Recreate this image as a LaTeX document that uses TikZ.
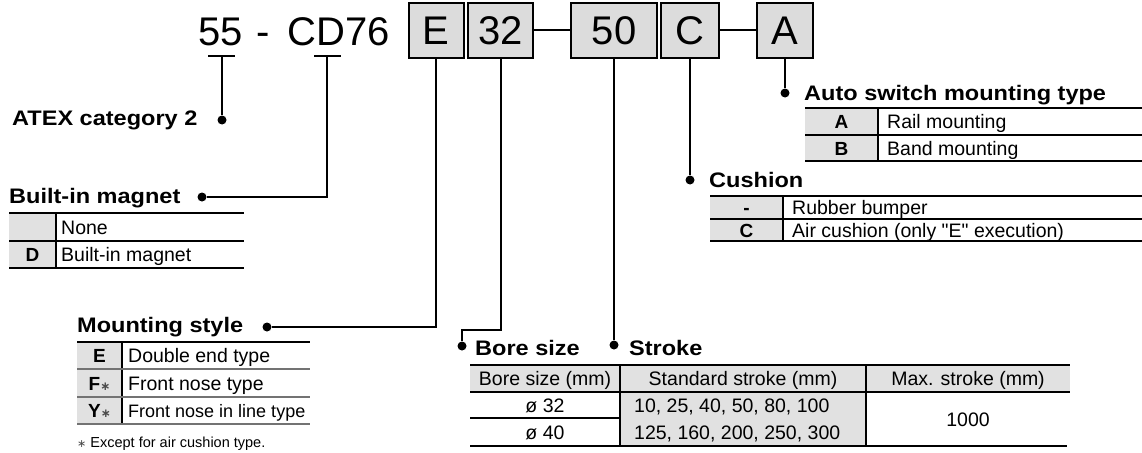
\documentclass[tikz,border=0pt]{standalone}
\usepackage{fontspec}
\setmainfont{Liberation Sans}
\newfontfamily\lblfont{Liberation Sans}[FakeStretch=1.12]
\newfontfamily\symfont{DejaVu Sans}
\definecolor{cellgrey}{HTML}{E1E1E1}
\definecolor{boxgrey}{HTML}{DCDCDC}
\tikzset{
  codebox/.style={draw, line width=2pt, fill=boxgrey, minimum height=55pt, inner sep=0pt,
                  font=\fontsize{40}{40}\selectfont},
  codetext/.style={inner sep=0pt, font=\fontsize{40}{40}\selectfont},
  lead/.style={line width=2pt},
  dotmark/.style={circle, fill=black, inner sep=0pt, minimum size=9pt},
  heading/.style={inner sep=0pt, anchor=base west, font=\lblfont\bfseries\fontsize{21}{21}\selectfont},
  keytxt/.style={inner sep=0pt, anchor=base, font=\bfseries\fontsize{19}{19}\selectfont},
  celltxt/.style={inner sep=0pt, anchor=base west, font=\fontsize{19.5}{19.5}\selectfont},
  midtxt/.style={inner sep=0pt, anchor=base, font=\fontsize{19.5}{19.5}\selectfont},
  notetxt/.style={inner sep=0pt, anchor=base west, font=\fontsize{14.5}{14.5}\selectfont},
  topline/.style={line width=2.6pt},
  rowline/.style={line width=1.2pt},
  softline/.style={line width=1.5pt, draw=black!55},
}
\newcommand{\starmark}{{\symfont\fontsize{12}{12}\selectfont\color{black!70}∗}}
% straight double quote, taken as a glyph so the TeX ligature mapping leaves it alone
\newcommand{\dq}{\XeTeXglyph\XeTeXglyphindex "quotedbl" \relax}
\begin{document}
\begin{tikzpicture}[x=1pt,y=-1pt]
\useasboundingbox (0,0) rectangle (1142,452);

% ---- order code ----
\node[codetext, anchor=base west] (n55) at (198,46) {55};
\node[codetext, anchor=base] (dash) at (263,46) {-};
\node[codetext, anchor=base east] (cd76) at (390,46) {CD76};
\node[codebox, minimum width=55pt] (bE) at (436,30.5) {E};
\node[codebox, minimum width=65pt] (b32) at (500.5,30.5) {32};
\node[codebox, minimum width=86pt] (b50) at (614,30.5) {50};
\node[codebox, minimum width=58pt] (bC) at (690,30.5) {C};
\node[codebox, minimum width=56pt] (bA) at (785,30.5) {A};
\draw[lead] (b32.east) -- (b50.west);
\draw[lead] (bC.east) -- (bA.west);

% tick marks under the fixed part of the code
\coordinate (t55) at (222,56);
\coordinate (t55l) at (208,56);
\coordinate (t55r) at (235,56);
\coordinate (tD) at (327,56);
\coordinate (tDl) at (314,56);
\coordinate (tDr) at (341,56);
\draw[lead] (t55l) -- (t55r);
\draw[lead] (tDl) -- (tDr);

% ---- leaders and headings ----
\node[dotmark] (dAtex) at (222,120) {};
\draw[lead] (t55) -- (dAtex);
\node[heading] (hAtex) at (12,125) {ATEX category 2};

\node[dotmark] (dMag) at (202,197) {};
\draw[lead] (tD) |- (dMag);
\node[heading] (hMag) at (9,203) {Built-in magnet};

\node[dotmark] (dMount) at (267,327) {};
\draw[lead] (bE.south) |- (dMount);
\node[heading] (hMount) at (77,332) {Mounting style};

\node[dotmark] (dBore) at (462,346) {};
\coordinate (boreKnee) at (462,330);
\draw[lead] (b32.south) |- (boreKnee) -- (dBore);
\node[heading] (hBore) at (475,355) {Bore size};

\node[dotmark] (dStroke) at (614,345) {};
\draw[lead] (b50.south) -- (dStroke);
\node[heading] (hStroke) at (629,355) {Stroke};

\node[dotmark] (dCush) at (690,180) {};
\draw[lead] (bC.south) -- (dCush);
\node[heading] (hCush) at (709,187) {Cushion};

\node[dotmark] (dAuto) at (785,93) {};
\draw[lead] (bA.south) -- (dAuto);
\node[heading] (hAuto) at (804,100) {Auto switch mounting type};

% ---- auto switch mounting type table ----
\fill[cellgrey] (805,108) rectangle (878,161);
\draw[rowline] (878,108) -- (878,161);
\draw[rowline] (805,135) -- (1142,135);
\draw[rowline] (805,161) -- (1142,161);
\draw[topline] (805,108) -- (1142,108);
\node[keytxt] (kA) at (841.5,128.5) {A};
\node[celltxt] (vA) at (887,128.5) {Rail mounting};
\node[keytxt] (kB) at (841.5,155) {B};
\node[celltxt] (vB) at (887,155) {Band mounting};

% ---- cushion table ----
\fill[cellgrey] (710,196) rectangle (783,241);
\draw[rowline] (783,196) -- (783,241);
\draw[rowline] (710,219) -- (1142,219);
\draw[rowline] (710,241) -- (1142,241);
\draw[topline] (710,196) -- (1142,196);
\node[keytxt] (kRub) at (746.5,214.5) {-};
\node[celltxt] (vRub) at (792,214.5) {Rubber bumper};
\node[keytxt] (kAir) at (746.5,237) {C};
\node[celltxt] (vAir) at (792,237) {Air cushion (only \dq E\dq{} execution)};

% ---- built-in magnet table ----
\fill[cellgrey] (9,213) rectangle (56,268);
\draw[rowline] (56,213) -- (56,268);
\draw[rowline] (9,241) -- (244,241);
\draw[rowline] (9,268) -- (244,268);
\draw[topline] (9,213) -- (244,213);
\node[celltxt] (vNone) at (61,234) {None};
\node[keytxt] (kD) at (32.5,261.5) {D};
\node[celltxt] (vD) at (61,261.5) {Built-in magnet};

% ---- mounting style table ----
\fill[cellgrey] (77,342) rectangle (122,424);
\draw[rowline] (122,342) -- (122,424);
\draw[softline] (77,369) -- (310,369);
\draw[softline] (77,397) -- (310,397);
\draw[softline] (77,424) -- (310,424);
\draw[topline] (77,342) -- (310,342);
\node[keytxt] (kE) at (99.5,362.5) {E};
\node[celltxt] (vE) at (128,362.5) {Double end type};
\node[keytxt] (kF) at (99.5,390) {F\starmark};
\node[celltxt] (vF) at (128,390) {Front nose type};
\node[keytxt] (kY) at (99.5,417.5) {Y\starmark};
\node[celltxt, font=\fontsize{18}{18}\selectfont] (vY) at (128,417.5) {Front nose in line type};
\node[notetxt] (note) at (77,447) {{\symfont\fontsize{11}{11}\selectfont\color{black!70}∗} Except for air cushion type.};

% ---- bore size / stroke table ----
\fill[cellgrey] (470,365) rectangle (1070,392);
\fill[cellgrey] (620,392) rectangle (866,446);
\draw[rowline] (470,392) -- (1070,392);
\draw[rowline] (470,418) -- (620,418);
\draw[rowline] (470,446) -- (1067,446);
\draw[rowline] (620,365) -- (620,446);
\draw[rowline] (866,365) -- (866,446);
\draw[topline] (470,365) -- (1070,365);
\node[midtxt] (hdBore) at (545,385.5) {Bore size (mm)};
\node[midtxt] (hdStd) at (743,385.5) {Standard stroke (mm)};
\node[midtxt] (hdMax) at (968,385.5) {Max. stroke (mm)};
\node[midtxt] (b32r) at (545,412) {ø 32};
\node[midtxt] (b40r) at (545,439) {ø 40};
\node[celltxt] (s32r) at (634,412) {10, 25, 40, 50, 80, 100};
\node[celltxt] (s40r) at (634,439) {125, 160, 200, 250, 300};
\node[midtxt] (maxr) at (968,426) {1000};
\end{tikzpicture}
\end{document}
